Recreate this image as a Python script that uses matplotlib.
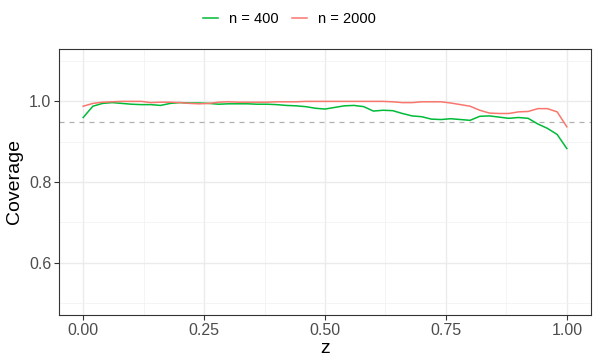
import numpy as np
import matplotlib
matplotlib.use('Agg')
import matplotlib.pyplot as plt
from matplotlib.ticker import MultipleLocator

plt.rcParams['font.family'] = ['Liberation Sans', 'DejaVu Sans']

# coverage curves, z on a 0.02 grid
z = np.linspace(0, 1, 51)
cov_400 = [0.960, 0.988, 0.995, 0.997, 0.995, 0.993, 0.992, 0.992, 0.990, 0.995,
           0.997, 0.996, 0.996, 0.995, 0.993, 0.994, 0.994, 0.994, 0.993, 0.993,
           0.992, 0.990, 0.989, 0.987, 0.983, 0.981, 0.985, 0.989, 0.990, 0.987,
           0.976, 0.978, 0.977, 0.970, 0.964, 0.962, 0.956, 0.955, 0.957, 0.955,
           0.953, 0.963, 0.964, 0.961, 0.958, 0.960, 0.958, 0.944, 0.933, 0.918,
           0.883]
cov_2000 = [0.988, 0.995, 0.998, 0.999, 1.000, 1.000, 1.000, 0.997, 0.998, 0.998,
            0.997, 0.995, 0.994, 0.995, 0.998, 0.999, 0.998, 0.998, 0.998, 0.998,
            0.999, 0.999, 0.999, 1.000, 1.000, 1.000, 1.000, 1.000, 1.000, 1.000,
            1.000, 1.000, 0.999, 0.997, 0.997, 0.999, 0.999, 0.999, 0.996, 0.992,
            0.988, 0.978, 0.971, 0.970, 0.970, 0.974, 0.975, 0.982, 0.982, 0.974,
            0.937]
nominal = 0.95

fig = plt.figure(figsize=(5.98, 3.62), dpi=100)
ax = fig.add_axes([59 / 598, 47 / 362, 532 / 598, 266 / 362])

ax.plot(z, cov_400, color='#00BA38', lw=1.1, label='n = 400', zorder=3)
ax.plot(z, cov_2000, color='#F8766D', lw=1.1, label='n = 2000', zorder=3)
ax.axhline(nominal, color='#B0B0B0', lw=0.9, ls=(0, (4, 4)), zorder=2)

ax.set_xlim(-0.05, 1.05)
ax.set_ylim(0.47, 1.13)
ax.set_xticks([0, 0.25, 0.5, 0.75, 1.0])
ax.set_xticklabels(['0.00', '0.25', '0.50', '0.75', '1.00'])
ax.set_yticks([0.6, 0.8, 1.0])
ax.set_yticklabels(['0.6', '0.8', '1.0'])
ax.xaxis.set_minor_locator(MultipleLocator(0.125))
ax.set_yticks([0.5, 0.7, 0.9, 1.1], minor=True)

ax.grid(True, which='major', color='#EBEBEB', lw=1.0, zorder=0)
ax.grid(True, which='minor', color='#F2F2F2', lw=0.6, zorder=0)
ax.set_axisbelow(True)
ax.tick_params(which='minor', length=0)
ax.tick_params(which='major', length=3.5, width=0.8, color='#333333',
               labelsize=11.5, labelcolor='#4D4D4D', pad=2)
for s in ax.spines.values():
    s.set_color('#333333')
    s.set_linewidth(0.8)

ax.set_xlabel('z', fontsize=14, labelpad=2)
ax.set_ylabel('Coverage', fontsize=14, labelpad=4)

fig.legend(loc='center', bbox_to_anchor=(289.5 / 598, 1 - 19 / 362), ncol=2,
           frameon=False, fontsize=10.5, handlelength=1.0, handletextpad=0.8,
           columnspacing=0.9)

fig.savefig('out.png', dpi=100)
